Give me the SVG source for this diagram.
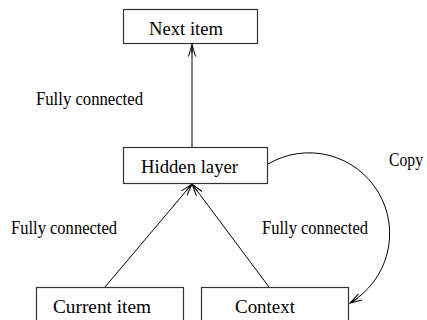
<svg xmlns="http://www.w3.org/2000/svg" width="427" height="320" viewBox="0 0 427 320">
<style>
.box{fill:#fff;stroke:#333;stroke-width:1.2}
.t{font-family:"Liberation Serif","Times New Roman",serif;font-size:18px;fill:#000}
.c{text-anchor:middle}
.e{fill:none;stroke:#000;stroke-width:1;marker-end:url(#ah)}
</style>
<defs>
<marker id="ah" markerWidth="14" markerHeight="10" refX="12" refY="5" orient="auto" markerUnits="userSpaceOnUse" viewBox="0 0 14 10">
<path d="M0,1.5 L12,5 L0,8.5 M3,5 L12,5" fill="none" stroke="#000" stroke-width="1"/>
</marker>
</defs>
<rect width="427" height="320" fill="#fff"/>
<g id="connectors">
<line class="e" x1="192" y1="147" x2="192" y2="44.5"/>
<line class="e" x1="105" y1="287" x2="192" y2="184"/>
<line class="e" x1="269" y1="287" x2="192" y2="184"/>
<path class="e" d="M268,164 A80.5,80.5 0 0 1 350,303"/>
<text class="t c" x="89.5" y="105" textLength="107" lengthAdjust="spacingAndGlyphs">Fully connected</text>
<text class="t c" x="64" y="234" textLength="106" lengthAdjust="spacingAndGlyphs">Fully connected</text>
<text class="t c" x="315" y="234" textLength="106" lengthAdjust="spacingAndGlyphs">Fully connected</text>
<text class="t" x="389" y="166" textLength="34" lengthAdjust="spacingAndGlyphs">Copy</text>
</g>
<g id="next-item">
<rect class="box" x="123.5" y="9.5" width="134" height="34"/>
<text class="t c" x="186" y="35" textLength="74" lengthAdjust="spacingAndGlyphs">Next item</text>
</g>
<g id="hidden-layer">
<rect class="box" x="123.5" y="147.5" width="144" height="36"/>
<text class="t c" x="189.5" y="173" textLength="97" lengthAdjust="spacingAndGlyphs">Hidden layer</text>
</g>
<g id="current-item">
<rect class="box" x="36.5" y="287.5" width="147" height="40"/>
<text class="t c" x="102" y="313" textLength="98" lengthAdjust="spacingAndGlyphs">Current item</text>
</g>
<g id="context">
<rect class="box" x="201.5" y="287.5" width="147" height="40"/>
<text class="t c" x="265" y="313" textLength="60" lengthAdjust="spacingAndGlyphs">Context</text>
</g>
</svg>
